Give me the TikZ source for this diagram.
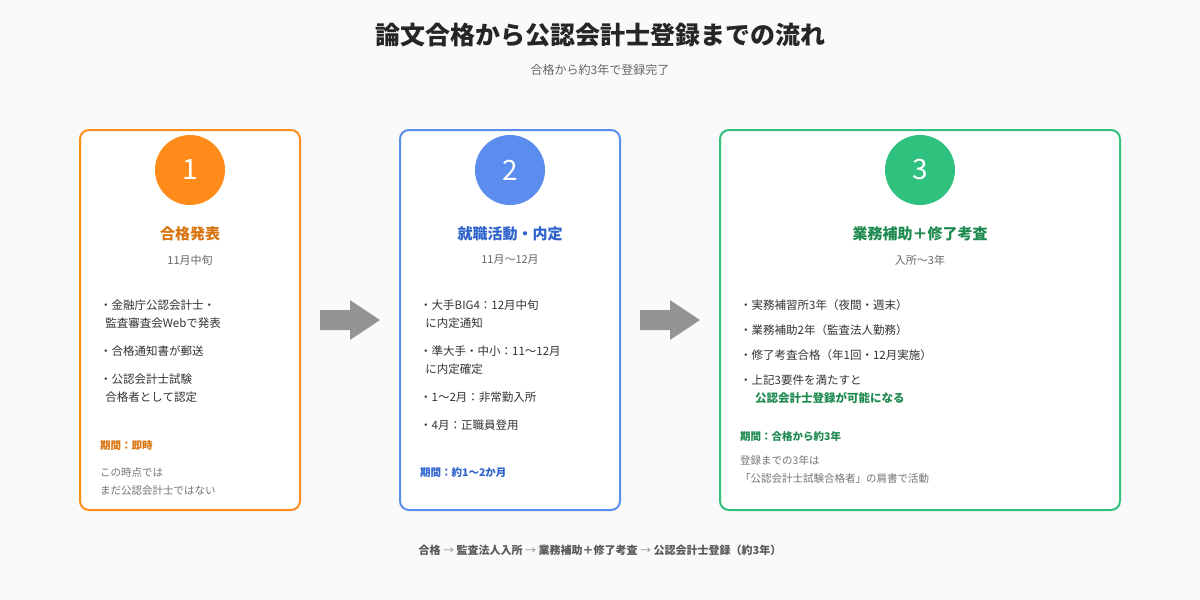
\documentclass[tikz,border=0pt]{standalone}
\usepackage{fontspec}
\setmainfont{Noto Sans CJK JP}
\begin{document}
\begin{tikzpicture}[x=1pt,y=-1pt,
 box/.style={line width=2pt,rounded corners=9pt,fill=white},
 num/.style={circle,minimum size=70pt,inner sep=0pt,text=white,font=\fontsize{28}{30}\selectfont},
 head/.style={font=\fontsize{15}{18}\selectfont\bfseries},
 sub/.style={font=\fontsize{11}{13}\selectfont,text=black!60},
 item/.style={anchor=west,font=\fontsize{11.5}{18}\selectfont,text=black!80,align=left,inner sep=0pt},
 note/.style={anchor=west,font=\fontsize{10.5}{18}\selectfont,text=black!55,align=left,inner sep=0pt},
 per/.style={anchor=west,font=\fontsize{10.5}{13}\selectfont\bfseries,inner sep=0pt},
 bigarrow/.style={fill=black!42,draw=none}]
\definecolor{oB}{HTML}{FF8C1A}\definecolor{oT}{HTML}{D9730D}
\definecolor{bB}{HTML}{5B8DEF}\definecolor{bT}{HTML}{2E63CC}
\definecolor{gB}{HTML}{2EC27E}\definecolor{gT}{HTML}{1E8A4F}
\fill[black!2] (0,0) rectangle (1200,600);
\useasboundingbox (0,0) rectangle (1200,600);
\node[font=\fontsize{25}{28}\selectfont\bfseries,text=black!85] (title) at (600,35) {論文合格から公認会計士登録までの流れ};
\node[font=\fontsize{12}{14}\selectfont,text=black!60] (stitle) at (600,70) {合格から約3年で登録完了};
% boxes
\draw[box,draw=oB] (80,130) rectangle (300,510);
\draw[box,draw=bB] (400,130) rectangle (620,510);
\draw[box,draw=gB] (720,130) rectangle (1120,510);
\node[num,fill=oB] (n1) at (190,170) {1};
\node[num,fill=bB] (n2) at (510,170) {2};
\node[num,fill=gB] (n3) at (920,170) {3};
\node[head,text=oT] (h1) at (190,234) {合格発表};
\node[head,text=bT] (h2) at (510,234) {就職活動・内定};
\node[head,text=gT] (h3) at (920,234) {業務補助＋修了考査};
\node[sub] (s1) at (190,260) {11月中旬};
\node[sub] (s2) at (510,260) {11月〜12月};
\node[sub] (s3) at (920,260) {入所〜3年};
% box1
\node[item] (a1) at (100,314) {・金融庁公認会計士・\\\ \ 監査審査会Webで発表};
\node[item] (a2) at (100,351) {・合格通知書が郵送};
\node[item] (a3) at (100,388) {・公認会計士試験\\\ \ 合格者として認定};
\node[per,text=oT] (p1) at (100,446) {期間：即時};
\node[note] (c1) at (100,482) {この時点では\\まだ公認会計士ではない};
% box2
\node[item] (b1) at (420,314) {・大手BIG4：12月中旬\\\ \ に内定通知};
\node[item] (b2) at (420,360) {・準大手・中小：11〜12月\\\ \ に内定確定};
\node[item] (b3) at (420,397) {・1〜2月：非常勤入所};
\node[item] (b4) at (420,425) {・4月：正職員登用};
\node[per,text=bT] (p2) at (420,473) {期間：約1〜2か月};
% box3
\node[item] (g1) at (740,305) {・実務補習所3年（夜間・週末）};
\node[item] (g2) at (740,330) {・業務補助2年（監査法人勤務）};
\node[item] (g3) at (740,355) {・修了考査合格（年1回・12月実施）};
\node[item] (g4) at (740,380) {・上記3要件を満たすと};
\node[item,font=\fontsize{11.5}{18}\selectfont\bfseries,text=gT] (g5) at (755,398) {公認会計士登録が可能になる};
\node[per,text=gT] (p3) at (740,436) {期間：合格から約3年};
\node[note] (c3) at (740,470) {登録までの3年は\\「公認会計士試験合格者」の肩書で活動};
% arrows
\fill[bigarrow] (320,310) -- (350,310) -- (350,300) -- (380,320) -- (350,340) -- (350,330) -- (320,330) -- cycle;
\fill[bigarrow] (640,310) -- (670,310) -- (670,300) -- (700,320) -- (670,340) -- (670,330) -- (640,330) -- cycle;
\node[font=\fontsize{11}{13}\selectfont\bfseries,text=black!65] (foot) at (600,550) {合格 {\mdseries\color{black!45}→} 監査法人入所 {\mdseries\color{black!45}→} 業務補助＋修了考査 {\mdseries\color{black!45}→} 公認会計士登録（約3年）};
\end{tikzpicture}
\end{document}
